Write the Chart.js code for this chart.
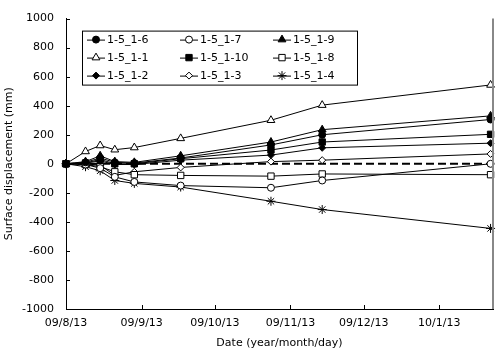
<!DOCTYPE html>
<html>
<head>
<meta charset="utf-8">
<script src="https://cdn.jsdelivr.net/npm/chart.js@4/dist/chart.umd.min.js"></script>
<style>
html, body { margin: 0; padding: 0; background: #fff; }
</style>
</head>
<body>
<canvas id="chart" width="500" height="354"></canvas>
<script>
// days since 2009-08-13
const days = [0, 8, 14, 20, 28, 47, 84, 105, 174];
const tickDays = [0, 31, 61, 92, 122, 153];
const tickLabels = ["09/8/13", "09/9/13", "09/10/13", "09/11/13", "09/12/13", "10/1/13"];
const yTicks = [-1000, -800, -600, -400, -200, 0, 200, 400, 600, 800, 1000];

const s1_5_1_6  = [0, 10, 40, 10, 5, 40, 130, 200, 305];
const s1_5_1_7  = [0, -5, -30, -90, -125, -150, -165, -115, 0];
const s1_5_1_9  = [0, 15, 55, 15, 10, 55, 150, 235, 330];
const s1_5_1_1  = [0, 85, 126, 97, 112, 175, 300, 404, 543];
const s1_5_1_10 = [0, 5, 30, 0, 0, 35, 95, 150, 203];
const s1_5_1_8  = [0, -5, -20, -55, -75, -80, -85, -70, -75];
const s1_5_1_2  = [0, 5, 20, -5, -5, 25, 60, 110, 142];
const s1_5_1_3  = [0, 0, -10, -80, -55, -25, 15, 25, 68];
const s1_5_1_4  = [0, -20, -48, -115, -135, -160, -258, -315, -445];

Chart.defaults.font.family = "'DejaVu Sans', sans-serif";
Chart.defaults.font.size = 11;
Chart.defaults.color = "#000";

function series(label, values, style, filled, radius) {
    return {
        label: label,
        data: values.map((v, i) => ({ x: days[i], y: v })),
        borderColor: "#000",
        borderWidth: 1,
        pointStyle: style,
        pointRadius: radius,
        pointBorderWidth: 1,
        pointBorderColor: "#000",
        pointBackgroundColor: filled ? "#000" : "#fff",
        clip: false,
    };
}

const datasets = [
    series("1-5_1-6", s1_5_1_6, "circle", true, 3.5),
    series("1-5_1-7", s1_5_1_7, "circle", false, 3.5),
    series("1-5_1-9", s1_5_1_9, "triangle", true, 4.5),
    series("1-5_1-1", s1_5_1_1, "triangle", false, 4.5),
    series("1-5_1-10", s1_5_1_10, "rect", true, 4.5),
    series("1-5_1-8", s1_5_1_8, "rect", false, 4.5),
    series("1-5_1-2", s1_5_1_2, "rectRot", true, 3.5),
    series("1-5_1-3", s1_5_1_3, "rectRot", false, 3.5),
    series("1-5_1-4", s1_5_1_4, "star", false, 4.5),
];

// zero reference line (dashed)
datasets.push({
    label: "zero",
    data: [{ x: days[0], y: 0 }, { x: days[days.length - 1], y: 0 }],
    borderColor: "#000",
    borderWidth: 2,
    borderDash: [8, 4],
    pointRadius: 0,
    clip: false,
});

// legend box, inward ticks, right border
const extras = {
    id: "extras",
    afterDraw(chart) {
        const ctx = chart.ctx;
        const area = chart.chartArea;
        const xs = chart.scales.x, ys = chart.scales.y;
        ctx.save();
        ctx.strokeStyle = "#000";
        ctx.lineWidth = 1;
        ctx.beginPath();
        yTicks.forEach((v) => {
            const py = Math.round(ys.getPixelForValue(v)) + 0.5;
            ctx.moveTo(area.left, py);
            ctx.lineTo(area.left + 4, py);
        });
        tickDays.forEach((d) => {
            const px = Math.round(xs.getPixelForValue(d)) + 0.5;
            ctx.moveTo(px, area.bottom);
            ctx.lineTo(px, area.bottom - 4);
        });
        ctx.stroke();

        ctx.strokeStyle = "#888";
        ctx.lineWidth = 2;
        ctx.beginPath();
        ctx.moveTo(area.right, area.top);
        ctx.lineTo(area.right, area.bottom);
        ctx.stroke();

        const bx = area.left + 16, by = area.top + 12;
        ctx.fillStyle = "#fff";
        ctx.fillRect(bx, by, 275, 55);
        ctx.strokeStyle = "#000";
        ctx.lineWidth = 1;
        ctx.strokeRect(bx + 0.5, by + 0.5, 275, 54);

        ctx.font = "11px 'DejaVu Sans', sans-serif";
        ctx.textBaseline = "middle";
        ctx.textAlign = "left";
        for (let i = 0; i < 9; i++) {
            const ds = chart.data.datasets[i];
            const mx = bx + 14 + (i % 3) * 93;
            const my = by + 9 + Math.floor(i / 3) * 18;
            ctx.strokeStyle = "#000";
            ctx.lineWidth = 1;
            ctx.beginPath();
            ctx.moveTo(mx - 9, my + 0.5);
            ctx.lineTo(mx + 9, my + 0.5);
            ctx.stroke();
            ctx.fillStyle = ds.pointBackgroundColor;
            Chart.helpers.drawPoint(ctx, {
                pointStyle: ds.pointStyle,
                radius: ds.pointRadius,
                borderWidth: 1,
                rotation: 0,
            }, mx, my);
            ctx.fillStyle = "#000";
            ctx.fillText(ds.label, mx + 11, my + 1);
        }
        ctx.restore();
    },
};

new Chart(document.getElementById("chart").getContext("2d"), {
    type: "line",
    data: { datasets: datasets },
    options: {
        responsive: false,
        animation: false,
        layout: { padding: { top: 10, right: 7, left: 0, bottom: 0 } },
        plugins: { legend: { display: false }, tooltip: { enabled: false } },
        scales: {
            x: {
                type: "linear",
                min: 0,
                max: 175,
                afterBuildTicks: (scale) => {
                    scale.ticks = tickDays.map((d) => ({ value: d }));
                },
                afterFit: (scale) => { scale.height = 45; },
                ticks: {
                    padding: 8,
                    maxRotation: 0,
                    callback: (value) => tickLabels[tickDays.indexOf(value)],
                },
                grid: { display: false, drawTicks: false },
                border: { display: true, color: "#000", width: 1 },
                title: { display: true, text: "Date (year/month/day)", padding: { top: 0, bottom: 4 } },
            },
            y: {
                min: -1000,
                max: 1000,
                afterBuildTicks: (scale) => {
                    scale.ticks = yTicks.map((v) => ({ value: v }));
                },
                afterFit: (scale) => { scale.width = 66; },
                ticks: { padding: 12, callback: (value) => String(value) },
                grid: { display: false, drawTicks: false },
                border: { display: true, color: "#000", width: 1 },
                title: { display: true, text: "Surface displacement (mm)", padding: { top: 3, bottom: 0 } },
            },
        },
    },
    plugins: [extras],
});
</script>
</body>
</html>
